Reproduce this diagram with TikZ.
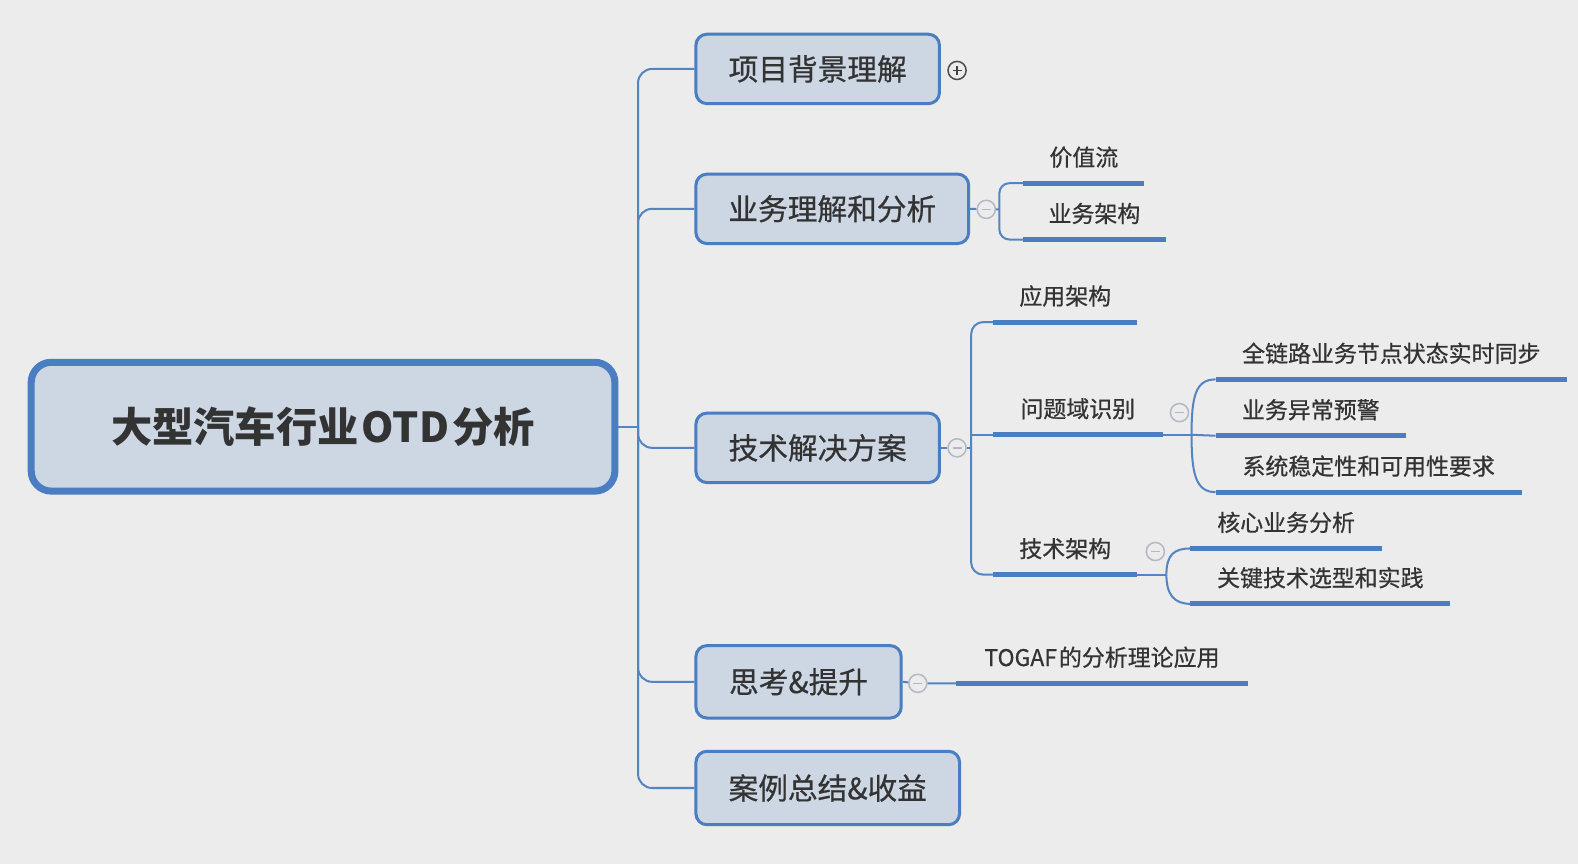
\documentclass[tikz,border=0pt]{standalone}
\usepackage{fontspec}
\newfontfamily\cjk{Noto Sans CJK SC}
\newfontfamily\cjkm{Noto Sans CJK SC}[FakeBold=0.6]
\definecolor{bg}{HTML}{ECECEC}
\definecolor{boxfill}{HTML}{CDD7E4}
\definecolor{boxline}{HTML}{4A7DC2}
\definecolor{connc}{HTML}{5484C2}
\definecolor{circc}{HTML}{B3B8C4}
\definecolor{txt}{HTML}{333333}
\begin{document}
\begin{tikzpicture}[x=1pt,y=-1pt,
  mainbox/.style={draw=boxline, line width=7pt, fill=boxfill, rounded corners=20pt,
    minimum width=580pt, minimum height=128pt, text=txt, font=\cjk\bfseries\fontsize{41}{48}\selectfont},
  childbox/.style={draw=boxline, line width=3pt, fill=boxfill, rounded corners=11pt,
    minimum height=69pt, text=txt, font=\cjkm\fontsize{29.5}{34}\selectfont},
  leaf/.style={inner xsep=0pt, inner ysep=12pt, anchor=south, text height=17pt, text depth=5pt,
    text=txt, font=\cjkm\fontsize{22.8}{26}\selectfont},
  ul/.style={draw=boxline, line width=5pt},
  conn/.style={draw=connc, line width=2pt},
  minusc/.style={circle, draw=circc, line width=1.5pt, fill=bg, minimum size=18pt, inner sep=0pt,
    path picture={\draw[circc, line width=1.5pt] ([xshift=-4.5pt]path picture bounding box.center) -- ([xshift=4.5pt]path picture bounding box.center);}},
  plusc/.style={circle, draw=black!70, line width=1.5pt, fill=bg, minimum size=18pt, inner sep=0pt,
    path picture={\draw[black!75, line width=1.8pt] ([xshift=-4.5pt]path picture bounding box.center) -- ([xshift=4.5pt]path picture bounding box.center)
      ([yshift=-4.5pt]path picture bounding box.center) -- ([yshift=4.5pt]path picture bounding box.center);}}
]
\fill[bg] (0,0) rectangle (1568,859);
\useasboundingbox (0,0) rectangle (1568,859);

% main and children
\node[mainbox] (main) at (321,424) {大型汽车行业\kern3pt OTD\kern3pt 分析};
\node[childbox, minimum width=242pt] (b1) at (812.5,68.5) {项目背景理解};
\node[childbox, minimum width=271pt] (b2) at (827,207.5) {业务理解和分析};
\node[childbox, minimum width=242pt] (b3) at (812.5,445) {技术解决方案};
\node[childbox, minimum width=204pt, minimum height=72pt] (b4) at (793.5,677.5) {思考\&提升};
\node[childbox, minimum width=262pt, minimum height=73pt] (b5) at (822.5,783) {案例总结\&收益};

% leaves
\node[leaf, minimum width=120pt] (v1) at (1077,182) {价值流};
\node[leaf, minimum width=141pt] (v2) at (1087.5,238) {业务架构};
\node[leaf, minimum width=143pt] (a1) at (1058.5,320) {应用架构};
\node[leaf, minimum width=168pt] (a2) at (1071,432) {问题域识别};
\node[leaf, minimum width=143pt] (a3) at (1058.5,571) {技术架构};
\node[leaf, minimum width=349pt] (p1) at (1382.5,377) {全链路业务节点状态实时同步};
\node[leaf, minimum width=189pt] (p2) at (1302.5,433) {业务异常预警};
\node[leaf, minimum width=304pt] (p3) at (1360,489) {系统稳定性和可用性要求};
\node[leaf, minimum width=190pt] (t1) at (1278,545) {核心业务分析};
\node[leaf, minimum width=258pt] (t2) at (1312,600) {关键技术选型和实践};
\node[leaf, minimum width=290pt] (g1) at (1095,679) {TOGAF\kern2pt 的分析理论应用};

% junction coordinates
\coordinate (tj) at (634,424);
\coordinate (j2) at (993,208);
\coordinate (j3) at (965,445);
\coordinate (k2) at (1184,432);
\coordinate (k3) at (1159,571);

% trunk connectors
\draw[conn] (main.east) -- (tj);
\foreach \b in {b1,b2,b3,b4,b5}{
  \draw[conn, rounded corners=14pt] (tj) |- (\b.west);
}

% collapse markers
\node[plusc] (c1) at (951,70) {};
\node[minusc] (c2) at (980,208) {};
\node[minusc] (c3) at (951,445) {};
\node[minusc] (c4) at (912,679) {};
\node[minusc] (c5) at (1172,410) {};
\node[minusc] (c6) at (1148,548) {};

% branch 2
\draw[conn] (b2.east) -- (c2) -- (j2);
\draw[conn, rounded corners=10pt] (v1.south west) -| (j2) |- (v2.south west);

% branch 3
\draw[conn] (b3.east) -- (c3) -- (j3);
\draw[conn, rounded corners=12pt] (a1.south west) -| (j3) |- (a3.south west);
\draw[conn] (j3 |- a2.south west) -- (a2.south west);

\draw[conn] (a2.south east) -- (k2);
\draw[conn] (k2) .. controls +(0,-38) and +(-20,0) .. (p1.south west);
\draw[conn] (k2) -- (p2.south west);
\draw[conn] (k2) .. controls +(0,38) and +(-20,0) .. (p3.south west);

\draw[conn] (a3.south east) -- (k3);
\draw[conn] (k3) .. controls +(0,-20) and +(-16,0) .. (t1.south west);
\draw[conn] (k3) .. controls +(0,20) and +(-16,0) .. (t2.south west);

% branch 4
\draw[conn] (b4.east) -- (c4) -- (g1.south west);

% underlines
\foreach \l in {v1,v2,a1,a2,a3,p1,p2,p3,t1,t2,g1}{
  \draw[ul] (\l.south west) -- (\l.south east);
}
\end{tikzpicture}
\end{document}
